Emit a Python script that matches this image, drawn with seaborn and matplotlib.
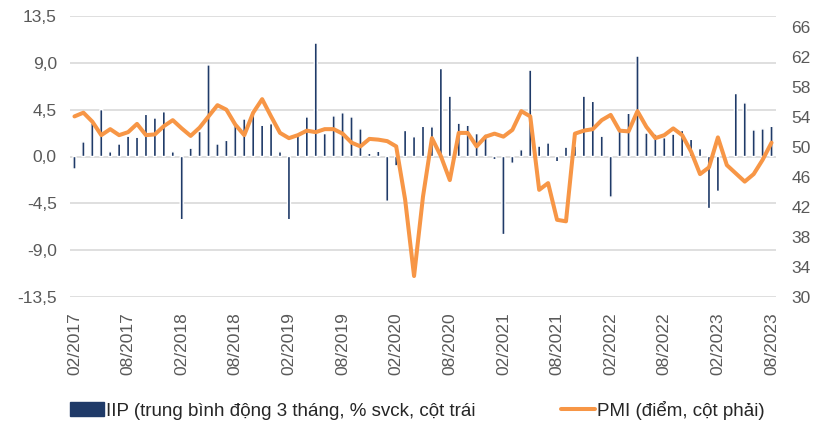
import numpy as np
import pandas as pd
import matplotlib
matplotlib.use("Agg")
import matplotlib.pyplot as plt
import seaborn as sns
from matplotlib.patches import Patch
from matplotlib.lines import Line2D

# ---- data ----
months = pd.date_range("2017-02-01", "2023-08-01", freq="MS").strftime("%m/%Y").tolist()

iip = [-1.2, 1.4, 3.2, 4.5, 0.45, 1.2, 1.95, 1.85, 4.05, 3.7,
       4.3, 0.45, -6.07, 0.8, 2.4, 8.8, 1.2, 1.55, 3.1, 3.6,
       4.45, 3.0, 3.15, 0.45, -6.07, 2.1, 3.8, 10.9, 2.2, 3.9,
       4.2, 3.8, 2.65, 0.3, 0.5, -4.3, -0.9, 2.5, 1.9, 2.9,
       2.85, 8.45, 5.8, 3.2, 3.0, 2.2, 2.15, -0.3, -7.5, -0.65,
       0.65, 8.3, 1.0, 1.3, -0.5, 0.9, 1.0, 5.8, 5.3, 1.95,
       -3.9, 2.5, 4.15, 9.65, 2.25, 2.15, 1.8, 2.15, 2.5, 1.65,
       0.75, -5.0, -3.35, 0.1, 6.05, 5.15, 2.55, 2.65, 2.9]

pmi = [54.1, 54.6, 53.4, 51.6, 52.4, 51.6, 52.0, 53.1, 51.6, 51.7,
       52.8, 53.6, 52.5, 51.5, 52.6, 54.1, 55.6, 55.0, 53.0, 51.6,
       54.6, 56.4, 54.1, 51.9, 51.2, 51.6, 52.2, 52.0, 52.4, 52.4,
       51.8, 50.6, 50.1, 51.1, 51.0, 50.8, 50.1, 43.0, 32.8, 43.4,
       51.2, 48.8, 45.6, 51.9, 51.9, 50.1, 51.4, 51.8, 51.4, 52.3,
       54.8, 54.1, 44.3, 45.2, 40.3, 40.1, 51.8, 52.2, 52.4, 53.6,
       54.3, 52.2, 52.1, 54.8, 52.7, 51.2, 51.6, 52.5, 51.6, 49.4,
       46.4, 47.3, 51.3, 47.6, 46.5, 45.4, 46.4, 48.3, 50.6]

tick_labels = ["02/2017", "08/2017", "02/2018", "08/2018", "02/2019", "08/2019",
               "02/2020", "08/2020", "02/2021", "08/2021", "02/2022", "08/2022",
               "02/2023", "08/2023"]

left_ticks = [-13.5, -9.0, -4.5, 0.0, 4.5, 9.0, 13.5]
right_ticks = [30, 34, 38, 42, 46, 50, 54, 58, 62, 66]

label_iip = "IIP (trung bình động 3 tháng, % svck, cột trái"
label_pmi = "PMI (điểm, cột phải)"

# ---- style ----
sns.set_theme(style="white")
plt.rcParams["font.family"] = ["Liberation Sans", "DejaVu Sans"]
navy = "#1F3A68"
orange = "#F79646"
txt = "#595959"
fs = 12.5
lfs = 13.5

W, H = 828, 428
fig = plt.figure(figsize=(W / 100, H / 100), dpi=100)
ax = fig.add_axes([70 / W, 1 - 297 / H, 706 / W, 281 / H])

df = pd.DataFrame({"month": months, "iip": iip, "pmi": pmi})
sns.barplot(data=df, x="month", y="iip", color=navy, saturation=1,
            width=0.34, ax=ax)
for p in ax.patches:
    p.set_snap(False)
ax.set_ylim(-13.5, 13.5)
ax.set_yticks(left_ticks)
ax.set_yticklabels([f"{v:.1f}".replace(".", ",") for v in left_ticks])
ax.grid(axis="y", color="#D9D9D9", lw=1.2)
ax.set_axisbelow(True)
for s in ax.spines.values():
    s.set_visible(False)
ax.set_xlabel("")
ax.set_ylabel("")

ax2 = ax.twinx()
sns.lineplot(x=np.arange(len(pmi)), y=pmi, ax=ax2, color=orange, lw=2.9,
             solid_joinstyle="round", solid_capstyle="round")
ax2.set_ylim(30, 67.5)
ax2.set_yticks(right_ticks)
ax2.set_yticklabels([str(v) for v in right_ticks])
for s in ax2.spines.values():
    s.set_visible(False)
ax2.set_ylabel("")

ax.set_xlim(-0.5, len(months) - 0.5)
ax.set_xticks(range(0, len(months), 6))
ax.set_xticklabels(tick_labels, rotation=90)

ax.tick_params(axis="both", length=0, labelsize=fs, labelcolor=txt)
ax.tick_params(axis="y", pad=9.5)
ax.tick_params(axis="x", pad=11)
ax2.tick_params(axis="y", length=0, labelsize=fs, labelcolor=txt, pad=11)

handles = [Patch(color=navy), Line2D([], [], color=orange, lw=2.9)]
fig.legend(handles, [label_iip, label_pmi], loc="center left",
           bbox_to_anchor=(53 / W, 1 - 410 / H), ncol=2, frameon=False,
           handlelength=1.8, handletextpad=0.1, columnspacing=4.6,
           fontsize=lfs, labelcolor="#262626")

fig.savefig("out.png", dpi=100)
